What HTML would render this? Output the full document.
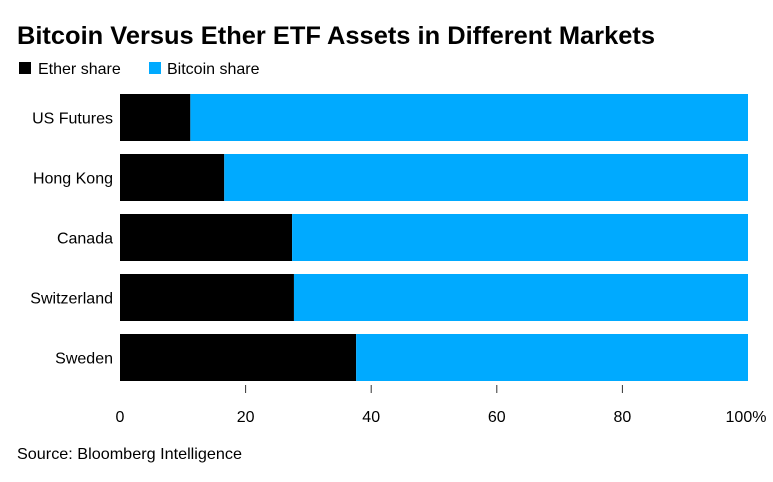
<!DOCTYPE html>
<html><head><meta charset="utf-8"><style>
body{margin:0;background:#fff;font-family:"Liberation Sans",Arial,sans-serif;}
svg text{font-family:"Liberation Sans",Arial,sans-serif;}
</style></head><body>
<svg id="chart" width="773" height="477" viewBox="0 0 773 477">
<text x="17" y="44" font-size="25" font-weight="bold" fill="#000" textLength="638" lengthAdjust="spacingAndGlyphs">Bitcoin Versus Ether ETF Assets in Different Markets</text>
<g>
<rect x="19" y="62" width="12" height="12" fill="#000"/>
<text x="38" y="74" font-size="16" fill="#000">Ether share</text>
<rect x="149" y="62" width="12" height="12" fill="#00aaff"/>
<text x="167" y="74" font-size="16" fill="#000">Bitcoin share</text>
</g>
<g id="bars"></g>
<g id="xaxis"></g>
<text x="17" y="459" font-size="16" fill="#000" textLength="225" lengthAdjust="spacingAndGlyphs">Source: Bloomberg Intelligence</text>
</svg>
<script>
const categories = ["US Futures","Hong Kong","Canada","Switzerland","Sweden"];
const etherShare = [11.2,16.6,27.4,27.7,37.6];
const bitcoinShare = [88.8,83.4,72.6,72.3,62.4];
const tickValues = [0,20,40,60,80,100];
const tickLabels = ["0","20","40","60","80","100%"];

const NS="http://www.w3.org/2000/svg";
const x0=120,x1=748,yTop=94,pitch=60,barH=47;
function xScale(v){return x0+(x1-x0)*v/100;}
function yScale(i){return yTop+i*pitch;}
const bars=document.getElementById('bars');
const xaxis=document.getElementById('xaxis');
function mk(tag,attrs){const e=document.createElementNS(NS,tag);for(const k in attrs)e.setAttribute(k,attrs[k]);return e;}
categories.forEach((c,i)=>{
  const y=yScale(i);
  const r1=mk('rect',{x:xScale(0),y:y,width:xScale(etherShare[i])-xScale(0),height:barH,fill:'#000'});
  
  
  bars.appendChild(r1);
  const r2=mk('rect',{x:xScale(etherShare[i]),y:y,width:xScale(etherShare[i]+bitcoinShare[i])-xScale(etherShare[i]),height:barH,fill:'#00aaff'});
  
  
  bars.appendChild(r2);
  const t=mk('text',{x:113,y:y+barH/2+6,'text-anchor':'end','font-size':16,fill:'#000'});
  t.textContent=c;
  
  
  bars.appendChild(t);
});
tickValues.forEach((v,i)=>{
  if(i>0 && i<tickValues.length-1){
    const l=mk('line',{x1:xScale(v),x2:xScale(v),y1:385,y2:393,stroke:'#333','stroke-width':1});
    
    
    xaxis.appendChild(l);
  }
  const t=mk('text',{x:xScale(v)+(i===tickValues.length-1?-2:0),y:422,'text-anchor':'middle','font-size':16,fill:'#000'});
  t.textContent=tickLabels[i];
  
  
  xaxis.appendChild(t);
});
</script>
</body></html>
